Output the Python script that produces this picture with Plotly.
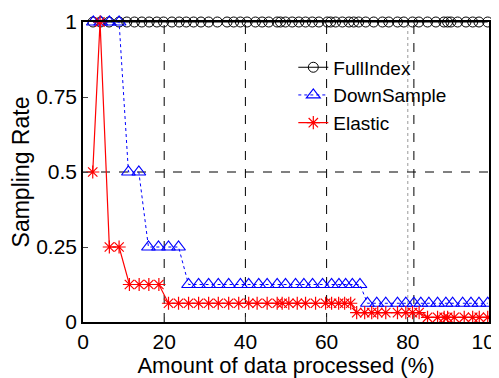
import plotly.graph_objects as go

# ---- data ----
full_x = [2.47, 4.32, 6.42, 8.89, 10.79, 12.67, 14.49, 16.30, 18.20, 19.83, 21.90, 23.70,
          25.43, 27.23, 29.06, 30.94, 33.09, 35.48, 37.11, 38.77, 40.42, 42.47, 44.12,
          45.75, 47.83, 48.64, 49.88, 51.53, 53.16, 54.81, 56.47, 58.10, 60.17, 60.99,
          62.22, 63.88, 65.51, 66.67, 67.90, 69.63, 71.60, 73.75, 75.31, 77.46, 79.01,
          81.16, 82.72, 84.86, 86.91, 88.89, 89.80, 90.62, 92.27, 94.32, 95.98, 97.53, 99.68]
full_y = [1.0] * len(full_x)

down_x = [2.54, 4.37, 6.49, 8.89, 11.19, 13.75, 16.12, 18.59, 21.06, 23.53, 26.00, 28.47,
          30.94, 33.33, 35.88, 38.77, 40.81, 43.28, 45.36, 47.83, 49.88, 52.35, 54.40,
          56.54, 59.01, 61.23, 63.04, 64.69, 66.35, 68.22, 70.05, 72.35, 74.57, 77.46,
          79.51, 81.48, 83.21, 85.19, 87.33, 89.38, 91.04, 93.51, 95.56, 97.53, 99.68]
down_y = [1, 1, 1, 1, 0.5, 0.5, 0.25, 0.25, 0.25, 0.25] + [0.125] * 20 + [0.0625] * 15

elastic_x = [2.40, 4.20, 6.49, 8.89, 11.43, 13.83, 16.22, 18.69, 21.06, 23.53, 26.00, 28.47,
             30.94, 33.33, 35.88, 38.35, 40.81, 42.89, 45.36, 47.83, 49.06, 50.69, 52.77,
             54.81, 57.28, 59.75, 61.23, 62.96, 64.44, 65.93, 67.41, 69.38, 71.11, 72.59,
             74.57, 77.46, 79.51, 81.16, 82.79, 84.86, 87.33, 88.96, 89.80, 91.43, 93.90,
             95.98, 97.60, 99.68]
elastic_y = [0.5, 1, 0.25, 0.25, 0.125, 0.125, 0.125, 0.125] + [0.0625] * 22 + \
            [0.03125] * 9 + [0.015625] * 9

x_ticks = [0, 20, 40, 60, 80, 100]
y_ticks = [0, 0.25, 0.5, 0.75, 1]
y_tick_text = ["0", "0.25", "0.5", "0.75", "1"]

FONT = "Liberation Sans, Arial, sans-serif"

fig = go.Figure()
fig.add_trace(go.Scatter(
    x=full_x, y=full_y, name="FullIndex", mode="lines+markers",
    line=dict(color="black", width=1),
    marker=dict(symbol="circle-open", size=10, color="black", line=dict(width=1)),
    cliponaxis=False))
fig.add_trace(go.Scatter(
    x=down_x, y=down_y, name="DownSample", mode="lines+markers",
    line=dict(color="#0000ff", width=1, dash="dot"),
    marker=dict(symbol="triangle-up-open", size=12, color="#0000ff", line=dict(width=1.2)),
    cliponaxis=False))
fig.add_trace(go.Scatter(
    x=elastic_x, y=elastic_y, name="Elastic", mode="lines+markers",
    line=dict(color="#ff0000", width=1.2),
    marker=dict(symbol="asterisk-open", size=11, color="#ff0000", line=dict(width=1.2, color="#ff0000")),
    cliponaxis=False))

# dashed reference lines
shapes = []
for xv in [20, 40, 60, 81.5]:
    shapes.append(dict(type="line", xref="x", yref="y", x0=xv, x1=xv, y0=0, y1=1,
                       line=dict(color="black", width=1, dash="dash"), layer="below"))
shapes.append(dict(type="line", xref="x", yref="y", x0=80, x1=80, y0=0, y1=1,
                   line=dict(color="#999999", width=1, dash="dot"), layer="below"))
shapes.append(dict(type="line", xref="x", yref="y", x0=0, x1=100, y0=0.5, y1=0.5,
                   line=dict(color="black", width=1, dash="dash"), layer="below"))

# page body has an 8px margin, so the figure is sized to fit the 499x378 window
fig.update_layout(
    width=491, height=370,
    margin=dict(l=75, r=10, t=14, b=55.5, autoexpand=False),
    paper_bgcolor="white", plot_bgcolor="white",
    font=dict(family=FONT, size=21, color="black"),
    shapes=shapes,
    showlegend=True,
    legend=dict(x=0.518, y=0.912, xanchor="left", yanchor="top",
                bgcolor="rgba(0,0,0,0)", font=dict(size=19, family=FONT),
                tracegroupgap=0, itemwidth=30),
    xaxis=dict(range=[0, 100], tickvals=x_ticks, ticks="inside", ticklen=5,
               showline=True, linecolor="black", linewidth=1.5, mirror=True,
               showgrid=False, zeroline=False, automargin=False,
               ticklabeloverflow="allow",
               title=dict(text="Amount of data processed (%)", font=dict(size=22), standoff=2),
               tickfont=dict(size=21)),
    yaxis=dict(range=[0, 1], tickvals=y_ticks, ticktext=y_tick_text, ticks="inside", ticklen=5,
               showline=True, linecolor="black", linewidth=1.5, mirror=True,
               showgrid=False, zeroline=False, automargin=False,
               ticklabeloverflow="allow",
               title=dict(text="Sampling Rate", font=dict(size=23), standoff=0),
               tickfont=dict(size=21)),
)

fig.write_html("out.html")
